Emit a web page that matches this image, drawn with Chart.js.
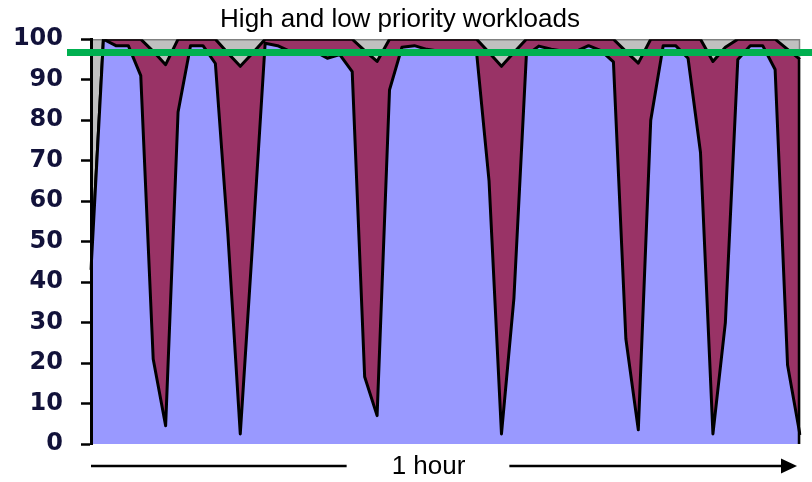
<!DOCTYPE html>
<html><head><meta charset="utf-8">
<script src="https://cdn.jsdelivr.net/npm/chart.js@4/dist/chart.umd.min.js"></script>
<style>html,body{margin:0;padding:0;background:#fff;}</style>
</head><body>
<canvas id="c" width="812" height="482"></canvas>
<script>
const samples = ['1','2','3','4','5','6','7','8','9','10','11','12','13','14','15','16','17','18','19','20',
  '21','22','23','24','25','26','27','28','29','30','31','32','33','34','35','36','37','38','39','40',
  '41','42','43','44','45','46','47','48','49','50','51','52','53','54','55','56','57','58'];
const highPriority = [43,100,98.4,98.4,91,21,4.5,82,98.4,98.4,
  94,52,2.5,50,99,98.4,97,97,97,95.3,
  96.2,92,16.6,7,87.5,98,98.4,97.5,97,97,
  97,96.7,65,2.5,36,96,98.3,97.5,97,97,
  98.4,97.2,94.4,26,3.5,80,98.4,98.4,95.3,72,
  2.5,30,95,98.4,98.4,92.5,19.5,2.2];
const lowPriority = [0,0,1.6,1.6,9,76,89.2,18,1.6,1.6,
  6,44.6,90.8,46.6,1,1.6,3,3,3,4.7,
  3.8,8,80.6,87.5,12.5,2,1.6,2.5,3,3,
  3,3.3,31.7,90.8,60.7,4,1.7,2.5,3,3,
  1.6,2.8,5.6,71,90.6,20,1.6,1.6,4.7,28,
  92,68,5,1.6,1.6,7.5,78,92.8];
const yTickValues = [0,10,20,30,40,50,60,70,80,90,100];
const threshold = 96.7;
const titleText = 'High and low priority workloads';
const xAxisText = '1 hour';

const plotBg = {
  id: 'plotBg',
  beforeDatasetsDraw(chart) {
    const {ctx, chartArea: a} = chart;
    ctx.save();
    ctx.fillStyle = '#C0C0C0';
    ctx.fillRect(a.left, a.top, a.right - a.left, a.bottom - a.top);
    ctx.strokeStyle = '#808080';
    ctx.lineWidth = 1.5;
    ctx.beginPath();
    ctx.moveTo(a.left, a.top + 0.5); ctx.lineTo(a.right - 0.5, a.top + 0.5); ctx.lineTo(a.right - 0.5, a.bottom);
    ctx.stroke();
    ctx.restore();
  },
  afterDatasetsDraw(chart) {
    const {ctx, chartArea: a, scales: {y}} = chart;
    const last = highPriority.length - 1;
    const yTop = y.getPixelForValue(highPriority[last] + lowPriority[last]);
    ctx.save();
    ctx.strokeStyle = '#000';
    ctx.lineWidth = 2.5;
    ctx.beginPath();
    ctx.moveTo(a.right - 1, yTop); ctx.lineTo(a.right - 1, a.bottom);
    ctx.stroke();
    ctx.restore();
  }
};

const extras = {
  id: 'extras',
  afterDraw(chart) {
    const {ctx, chartArea: a, scales: {y}} = chart;
    ctx.save();
    const gy = y.getPixelForValue(threshold);
    ctx.strokeStyle = '#00B050';
    ctx.lineWidth = 7;
    ctx.beginPath();
    ctx.moveTo(a.left - 24, gy); ctx.lineTo(chart.width, gy);
    ctx.stroke();
    const ay = a.bottom + 22;
    const cx = (a.left + a.right) / 2 - 17;
    ctx.font = '26px "Liberation Sans", Arial, sans-serif';
    ctx.fillStyle = '#000';
    ctx.textAlign = 'center';
    ctx.textBaseline = 'middle';
    ctx.fillText(xAxisText, cx, ay + 1);
    const tw = ctx.measureText(xAxisText).width;
    ctx.strokeStyle = '#000';
    ctx.lineWidth = 2.5;
    ctx.beginPath();
    ctx.moveTo(a.left, ay); ctx.lineTo(cx - tw / 2 - 45, ay);
    ctx.moveTo(cx + tw / 2 + 44, ay); ctx.lineTo(a.right - 16, ay);
    ctx.stroke();
    ctx.beginPath();
    ctx.moveTo(a.right - 3, ay);
    ctx.lineTo(a.right - 19, ay - 7.5);
    ctx.lineTo(a.right - 19, ay + 7.5);
    ctx.closePath();
    ctx.fill();
    ctx.restore();
  }
};

new Chart(document.getElementById('c'), {
  type: 'line',
  data: {
    labels: samples,
    datasets: [
      {label: 'High priority', data: highPriority, backgroundColor: '#9999FF', borderColor: '#000',
       borderWidth: 3, fill: 'origin', pointRadius: 0, tension: 0, borderJoinStyle: 'round'},
      {label: 'Low priority', data: lowPriority, backgroundColor: '#993366', borderColor: '#000',
       borderWidth: 3, fill: '-1', pointRadius: 0, tension: 0, borderJoinStyle: 'round'}
    ]
  },
  options: {
    responsive: false,
    animation: false,
    devicePixelRatio: 1,
    layout: {padding: {left: 0, right: 12, top: 0, bottom: 38}},
    plugins: {
      legend: {display: false},
      tooltip: {enabled: false},
      title: {display: true, text: titleText, color: '#000',
        font: {family: '"Liberation Sans", Arial, sans-serif', size: 26, weight: 'normal', lineHeight: 1.2},
        padding: {top: 4, bottom: 4}}
    },
    scales: {
      x: {display: false, offset: false},
      y: {
        stacked: true, min: 0, max: 100,
        afterFit: s => { s.width = 91; },
        afterBuildTicks: s => { s.ticks = yTickValues.map(v => ({value: v})); },
        ticks: {font: {family: '"DejaVu Sans", Verdana, sans-serif', size: 24, weight: 'bold'},
          color: '#12123a', padding: 18},
        grid: {drawOnChartArea: false, drawTicks: true, tickLength: 10, tickColor: '#000', tickWidth: 2.5, z: 1},
        border: {display: true, color: '#000', width: 3, z: 1}
      }
    }
  },
  plugins: [plotBg, extras]
});
</script>
</body></html>
